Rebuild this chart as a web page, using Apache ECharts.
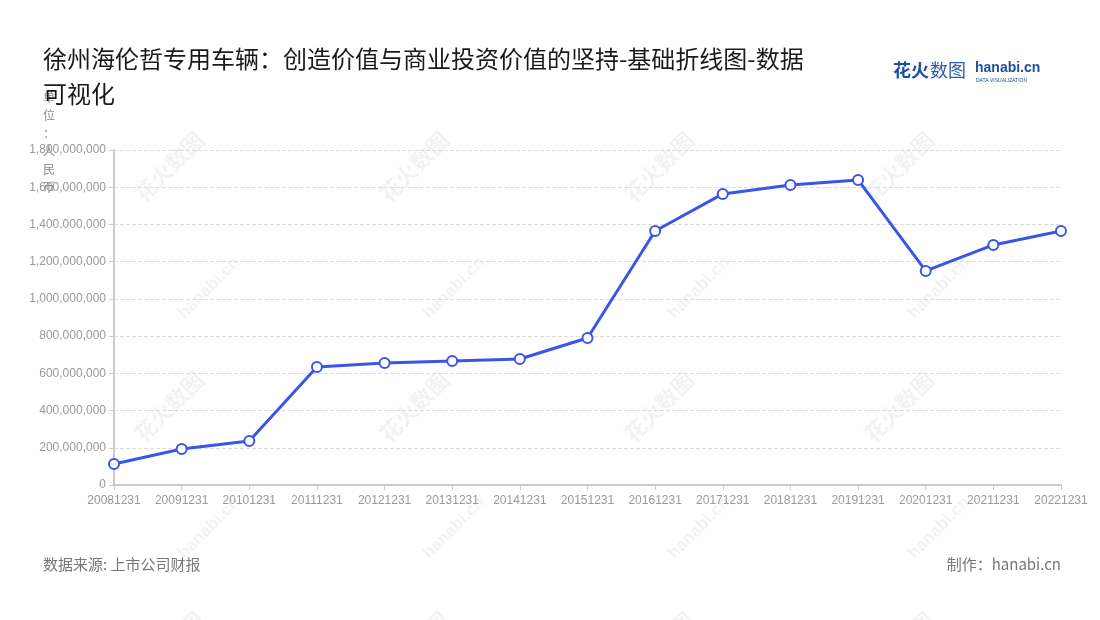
<!DOCTYPE html>
<html>
<head>
<meta charset="utf-8">
<script src="https://cdn.jsdelivr.net/npm/echarts@6/dist/echarts.min.js"></script>
<style>html,body{margin:0;padding:0;background:#fff}#c{width:1100px;height:620px}</style>
</head>
<body>
<div id="c"></div>
<script>
const categories = ['20081231','20091231','20101231','20111231','20121231','20131231','20141231','20151231','20161231','20171231','20181231','20191231','20201231','20211231','20221231'];
const values = [113000000,193000000,236000000,634000000,655000000,666000000,677000000,790000000,1365000000,1564000000,1612000000,1639000000,1150000000,1290000000,1365000000];
const titleText = '徐州海伦哲专用车辆：创造价值与商业投资价值的坚持-基础折线图-数据可视化';
const yName = '单位：人民币';
const sourceText = '数据来源: 上市公司财报';
const makerText = '制作：hanabi.cn';

const chart = echarts.init(document.getElementById('c'));
const font = '"Noto Sans CJK SC","Noto Sans",sans-serif';

const wm = [];
const cols = [130, 375, 620, 860];
const rows = [60, 300, 540];
cols.forEach(x => rows.forEach(y => {
  wm.push({type:'text', x:x, y:y+130, rotation:Math.PI/4, silent:true, z:-1,
    style:{text:'花火数图', fill:'rgba(0,0,0,0.05)', font:'bold 22px ' + font}});
  wm.push({type:'text', x:x+45, y:y+250, rotation:Math.PI/4, silent:true, z:-1,
    style:{text:'hanabi.cn', fill:'rgba(0,0,0,0.05)', font:'bold 17px sans-serif'}});
}));

chart.setOption({
  backgroundColor:'#fff',
  title:{
    text:titleText, left:38, top:36,
    textStyle:{fontSize:24, fontWeight:'normal', color:'#1a1a1a', fontFamily:font, width:770, overflow:'break', lineHeight:35}
  },
  grid:{left:114, right:39, top:150, bottom:135},
  xAxis:{
    type:'category', data:categories, boundaryGap:false,
    axisLine:{lineStyle:{color:'#ccc', width:2}},
    axisTick:{lineStyle:{color:'#ccc'}},
    axisLabel:{color:'#999', fontSize:12, margin:10, interval:0}
  },
  yAxis:{
    type:'value', min:0, max:1800000000, interval:200000000,
    axisLine:{show:true, lineStyle:{color:'#ccc', width:2}},
    axisTick:{show:true, lineStyle:{color:'#ccc'}},
    axisLabel:{color:'#999', fontSize:12, formatter:v => v.toLocaleString('en-US')},
    splitLine:{lineStyle:{color:'#ddd', type:'dashed'}}
  },
  series:[{
    type:'line', data:values,
    symbol:'emptyCircle', symbolSize:10,
    lineStyle:{color:'#3a56e8', width:3},
    itemStyle:{color:'#3a56e8', borderWidth:2}
  }],
  graphic:[
    ...wm,
    {type:'text', left:43, top:88, style:{text:yName.split('').join('\n'), fill:'#888', font:'12px ' + font, lineHeight:18, align:'center'}},
    {type:'text', left:893, top:61, style:{text:'花火', fill:'#1f4e9c', font:'bold 18px ' + font}},
    {type:'text', left:930, top:61, style:{text:'数图', fill:'#2a5cb0', font:'18px ' + font}},
    {type:'text', left:975, top:61, style:{text:'hanabi.cn', fill:'#1f4e9c', font:'bold 14px sans-serif'}},
    {type:'text', left:976, top:78, style:{text:'DATA VISUALIZATION', fill:'#1f4e9c', font:'5px sans-serif'}},
    {type:'text', left:43, top:557, style:{text:sourceText, fill:'#777', font:'15px ' + font}},
    {type:'text', right:39, top:557, style:{text:makerText, fill:'#777', font:'15px ' + font}}
  ]
});
</script>
</body>
</html>
